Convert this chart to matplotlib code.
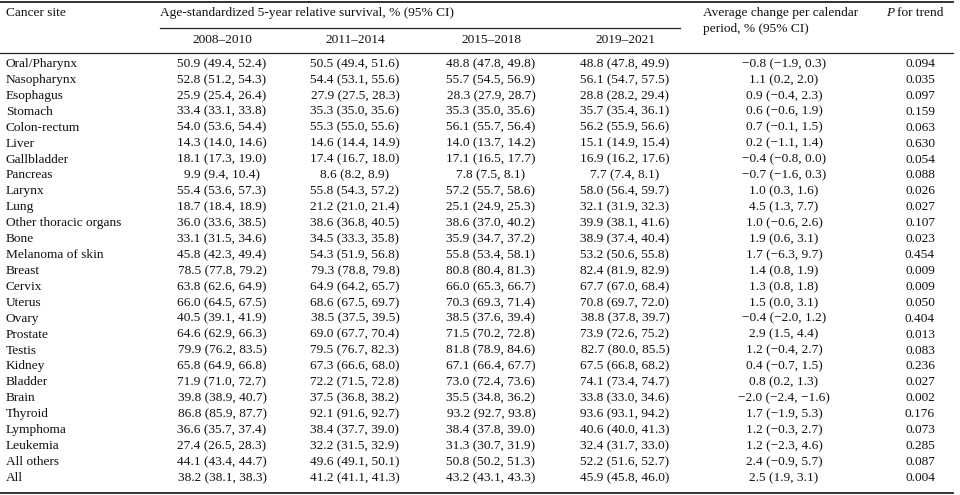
import numpy as np
import matplotlib
matplotlib.use('Agg')
import matplotlib.pyplot as plt

sites = ['Oral/Pharynx', 'Nasopharynx', 'Esophagus', 'Stomach', 'Colon-rectum', 'Liver',
         'Gallbladder', 'Pancreas', 'Larynx', 'Lung', 'Other thoracic organs', 'Bone',
         'Melanoma of skin', 'Breast', 'Cervix', 'Uterus', 'Ovary', 'Prostate', 'Testis',
         'Kidney', 'Bladder', 'Brain', 'Thyroid', 'Lymphoma', 'Leukemia', 'All others', 'All']

periods = ['2008–2010', '2011–2014', '2015–2018', '2019–2021']

p2008 = ['50.9 (49.4, 52.4)', '52.8 (51.2, 54.3)', '25.9 (25.4, 26.4)', '33.4 (33.1, 33.8)',
         '54.0 (53.6, 54.4)', '14.3 (14.0, 14.6)', '18.1 (17.3, 19.0)', '9.9 (9.4, 10.4)',
         '55.4 (53.6, 57.3)', '18.7 (18.4, 18.9)', '36.0 (33.6, 38.5)', '33.1 (31.5, 34.6)',
         '45.8 (42.3, 49.4)', '78.5 (77.8, 79.2)', '63.8 (62.6, 64.9)', '66.0 (64.5, 67.5)',
         '40.5 (39.1, 41.9)', '64.6 (62.9, 66.3)', '79.9 (76.2, 83.5)', '65.8 (64.9, 66.8)',
         '71.9 (71.0, 72.7)', '39.8 (38.9, 40.7)', '86.8 (85.9, 87.7)', '36.6 (35.7, 37.4)',
         '27.4 (26.5, 28.3)', '44.1 (43.4, 44.7)', '38.2 (38.1, 38.3)']
p2011 = ['50.5 (49.4, 51.6)', '54.4 (53.1, 55.6)', '27.9 (27.5, 28.3)', '35.3 (35.0, 35.6)',
         '55.3 (55.0, 55.6)', '14.6 (14.4, 14.9)', '17.4 (16.7, 18.0)', '8.6 (8.2, 8.9)',
         '55.8 (54.3, 57.2)', '21.2 (21.0, 21.4)', '38.6 (36.8, 40.5)', '34.5 (33.3, 35.8)',
         '54.3 (51.9, 56.8)', '79.3 (78.8, 79.8)', '64.9 (64.2, 65.7)', '68.6 (67.5, 69.7)',
         '38.5 (37.5, 39.5)', '69.0 (67.7, 70.4)', '79.5 (76.7, 82.3)', '67.3 (66.6, 68.0)',
         '72.2 (71.5, 72.8)', '37.5 (36.8, 38.2)', '92.1 (91.6, 92.7)', '38.4 (37.7, 39.0)',
         '32.2 (31.5, 32.9)', '49.6 (49.1, 50.1)', '41.2 (41.1, 41.3)']
p2015 = ['48.8 (47.8, 49.8)', '55.7 (54.5, 56.9)', '28.3 (27.9, 28.7)', '35.3 (35.0, 35.6)',
         '56.1 (55.7, 56.4)', '14.0 (13.7, 14.2)', '17.1 (16.5, 17.7)', '7.8 (7.5, 8.1)',
         '57.2 (55.7, 58.6)', '25.1 (24.9, 25.3)', '38.6 (37.0, 40.2)', '35.9 (34.7, 37.2)',
         '55.8 (53.4, 58.1)', '80.8 (80.4, 81.3)', '66.0 (65.3, 66.7)', '70.3 (69.3, 71.4)',
         '38.5 (37.6, 39.4)', '71.5 (70.2, 72.8)', '81.8 (78.9, 84.6)', '67.1 (66.4, 67.7)',
         '73.0 (72.4, 73.6)', '35.5 (34.8, 36.2)', '93.2 (92.7, 93.8)', '38.4 (37.8, 39.0)',
         '31.3 (30.7, 31.9)', '50.8 (50.2, 51.3)', '43.2 (43.1, 43.3)']
p2019 = ['48.8 (47.8, 49.9)', '56.1 (54.7, 57.5)', '28.8 (28.2, 29.4)', '35.7 (35.4, 36.1)',
         '56.2 (55.9, 56.6)', '15.1 (14.9, 15.4)', '16.9 (16.2, 17.6)', '7.7 (7.4, 8.1)',
         '58.0 (56.4, 59.7)', '32.1 (31.9, 32.3)', '39.9 (38.1, 41.6)', '38.9 (37.4, 40.4)',
         '53.2 (50.6, 55.8)', '82.4 (81.9, 82.9)', '67.7 (67.0, 68.4)', '70.8 (69.7, 72.0)',
         '38.8 (37.8, 39.7)', '73.9 (72.6, 75.2)', '82.7 (80.0, 85.5)', '67.5 (66.8, 68.2)',
         '74.1 (73.4, 74.7)', '33.8 (33.0, 34.6)', '93.6 (93.1, 94.2)', '40.6 (40.0, 41.3)',
         '32.4 (31.7, 33.0)', '52.2 (51.6, 52.7)', '45.9 (45.8, 46.0)']
avg_change = ['−0.8 (−1.9, 0.3)', '1.1 (0.2, 2.0)', '0.9 (−0.4, 2.3)', '0.6 (−0.6, 1.9)',
              '0.7 (−0.1, 1.5)', '0.2 (−1.1, 1.4)', '−0.4 (−0.8, 0.0)', '−0.7 (−1.6, 0.3)',
              '1.0 (0.3, 1.6)', '4.5 (1.3, 7.7)', '1.0 (−0.6, 2.6)', '1.9 (0.6, 3.1)',
              '1.7 (−6.3, 9.7)', '1.4 (0.8, 1.9)', '1.3 (0.8, 1.8)', '1.5 (0.0, 3.1)',
              '−0.4 (−2.0, 1.2)', '2.9 (1.5, 4.4)', '1.2 (−0.4, 2.7)', '0.4 (−0.7, 1.5)',
              '0.8 (0.2, 1.3)', '−2.0 (−2.4, −1.6)', '1.7 (−1.9, 5.3)', '1.2 (−0.3, 2.7)',
              '1.2 (−2.3, 4.6)', '2.4 (−0.9, 5.7)', '2.5 (1.9, 3.1)']
p_trend = ['0.094', '0.035', '0.097', '0.159', '0.063', '0.630', '0.054', '0.088', '0.026',
           '0.027', '0.107', '0.023', '0.454', '0.009', '0.009', '0.050', '0.404', '0.013',
           '0.083', '0.236', '0.027', '0.002', '0.176', '0.073', '0.285', '0.087', '0.004']

W, H = 960, 495
fig = plt.figure(figsize=(W / 100, H / 100), dpi=100)
ax = fig.add_axes([0, 0, 1, 1])
ax.set_xlim(0, W); ax.set_ylim(H, 0); ax.axis('off')

FONT = 'Liberation Serif'
FS = 9.6
TXT = '#111111'
kw = dict(fontfamily=FONT, fontsize=FS, color=TXT, va='center')

# columnas: centros en px
col_x = [222, 355, 491, 625]
chg_x = 784
p_x = 920

# reglas horizontales
ax.plot([0, 953], [1.5, 1.5], color='#222', lw=1.3)
ax.plot([160, 680], [28, 28], color='#222', lw=0.9)
ax.plot([0, 953], [52.5, 52.5], color='#222', lw=0.9)
ax.plot([0, 953], [492.5, 492.5], color='#222', lw=1.3)

# cabecera
ax.text(6, 13, 'Cancer site', ha='left', **kw)
ax.text(160, 13, 'Age-standardized 5-year relative survival, % (95% CI)', ha='left', **kw)
for x, lab in zip(col_x, periods):
    ax.text(x, 40, lab, ha='center', **kw)
ax.text(703, 13, 'Average change per calendar', ha='left', **kw)
ax.text(703, 29, 'period, % (95% CI)', ha='left', **kw)
ax.text(886, 13, 'P', ha='left', style='italic', **kw)
ax.text(897, 13, 'for trend', ha='left', **kw)

# filas
y0, dy = 64, 15.92
for i, s in enumerate(sites):
    y = y0 + i * dy
    ax.text(6, y, s, ha='left', **kw)
    for x, col in zip(col_x, [p2008, p2011, p2015, p2019]):
        ax.text(x, y, col[i], ha='center', **kw)
    ax.text(chg_x, y, avg_change[i], ha='center', **kw)
    ax.text(p_x, y, p_trend[i], ha='center', **kw)

fig.savefig('out.png', dpi=100)
